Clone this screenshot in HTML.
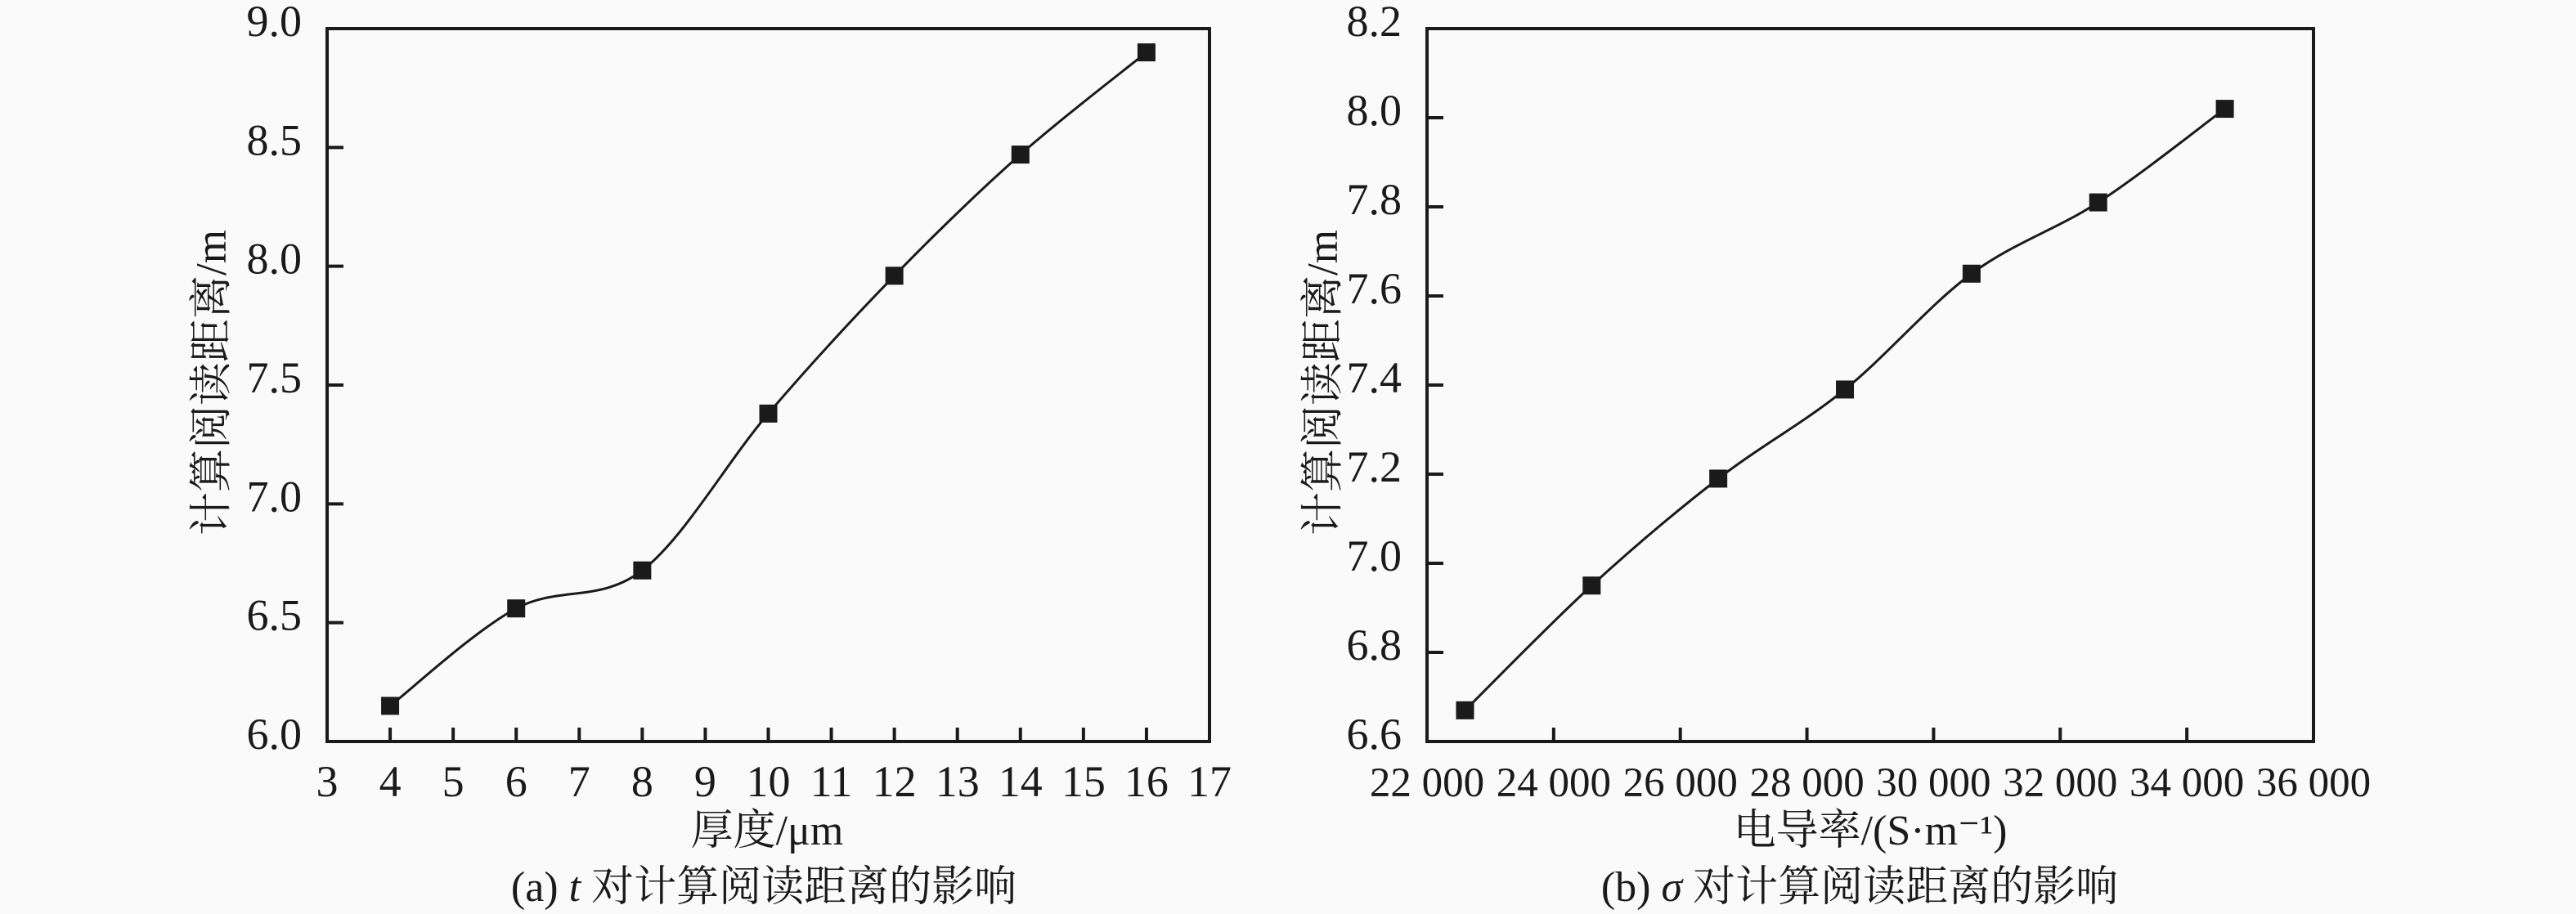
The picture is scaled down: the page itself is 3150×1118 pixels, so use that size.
<!DOCTYPE html>
<html><head><meta charset="utf-8"><style>
html,body{margin:0;padding:0;background:#fafafa;}
svg{display:block;}
</style></head><body>
<svg id="s" width="3150" height="1118" xmlns="http://www.w3.org/2000/svg" font-family="'Liberation Serif','Noto Serif CJK SC',serif">
<rect width="3150" height="1118" fill="#fafafa"/>
</svg>
<script>
const S=document.getElementById('s');const NS='http://www.w3.org/2000/svg';
const FF="'Liberation Serif','Noto Serif CJK SC',serif";
function el(t,a,txt){const e=document.createElementNS(NS,t);for(const k in a)e.setAttribute(k,a[k]);if(t==='text'){e.setAttribute('font-family',FF);e.setAttribute('fill','#1a1a1a');e.style.fontFamily=FF;}if(txt!==undefined)e.textContent=txt;S.appendChild(e);return e;}
function spline(p){let d='M'+p[0][0]+','+p[0][1];for(let i=0;i<p.length-1;i++){const p0=p[i-1]||p[i],p1=p[i],p2=p[i+1],p3=p[i+2]||p2;
const c1=[p1[0]+(p2[0]-p0[0])/6,p1[1]+(p2[1]-p0[1])/6],c2=[p2[0]-(p3[0]-p1[0])/6,p2[1]-(p3[1]-p1[1])/6];
d+=` C${c1[0]},${c1[1]} ${c2[0]},${c2[1]} ${p2[0]},${p2[1]}`;}return d;}
function plot(o){const {L,R,T,B,xmin,xmax,ymin,ymax}=o;
const X=v=>L+(v-xmin)/(xmax-xmin)*(R-L),Y=v=>B-(v-ymin)/(ymax-ymin)*(B-T);
el('rect',{x:L,y:T,width:R-L,height:B-T,fill:'none',stroke:'#1a1a1a','stroke-width':4});
o.xt.forEach((v,i)=>{const x=X(v);if(o.xtick(i))el('line',{x1:x,y1:B,x2:x,y2:B-17,stroke:'#1a1a1a','stroke-width':4});
el('text',{x:x,y:974,'font-size':o.xfs,'text-anchor':'middle'},o.xl(v));});
o.yt.forEach(v=>{const y=Y(v);el('line',{x1:L,y1:y,x2:L+20,y2:y,stroke:'#1a1a1a','stroke-width':4});
el('text',{x:L-31,y:y+9,'font-size':54,'text-anchor':'end'},o.yl(v));});
const pts=o.d.map(p=>[X(p[0]),Y(p[1])]);
el('path',{d:spline(pts),fill:'none',stroke:'#1a1a1a','stroke-width':3});
pts.forEach(p=>el('rect',{x:p[0]-11,y:p[1]-11,width:22,height:22,fill:'#1a1a1a'}));
el('text',{x:o.xtx,y:1033,'font-size':52,'text-anchor':'middle'},o.xtitle);
el('text',{x:0,y:0,'font-size':53,'text-anchor':'middle',transform:`translate(${o.ytx},468) rotate(-90)`},'计算阅读距离/m');
const c=el('text',{x:o.ctx,y:1102,'font-size':52,'text-anchor':'middle'});c.innerHTML=o.cap;}
plot({L:400,R:1479,T:35,B:907,xmin:3,xmax:17,ymin:6,ymax:9,xfs:54,
xt:[3,4,5,6,7,8,9,10,11,12,13,14,15,16,17],xtick:i=>i>0&&i<14,xl:v=>String(v),
yt:[6,6.5,7,7.5,8,8.5,9],yl:v=>v.toFixed(1),
d:[[4,6.15],[6,6.56],[8,6.72],[10,7.38],[12,7.96],[14,8.47],[16,8.9]],
xtitle:'厚度/μm',xtx:938,ytx:276,ctx:934,cap:'(a) <tspan font-style="italic">t</tspan> 对计算阅读距离的影响'});
plot({L:1745,R:2829,T:35,B:907,xmin:22000,xmax:36000,ymin:6.6,ymax:8.2,xfs:51,
xt:[22000,24000,26000,28000,30000,32000,34000,36000],xtick:i=>i>0&&i<7,xl:v=>(v/1000)+' 000',
yt:[6.6,6.8,7,7.2,7.4,7.6,7.8,8,8.2],yl:v=>v.toFixed(1),
d:[[22600,6.67],[24600,6.95],[26600,7.19],[28600,7.39],[30600,7.65],[32600,7.81],[34600,8.02]],
xtitle:'电导率/(S·m⁻¹)',xtx:2287,ytx:1635,ctx:2274,cap:'(b) <tspan font-style="italic">σ</tspan> 对计算阅读距离的影响'});
</script>
</body></html>
